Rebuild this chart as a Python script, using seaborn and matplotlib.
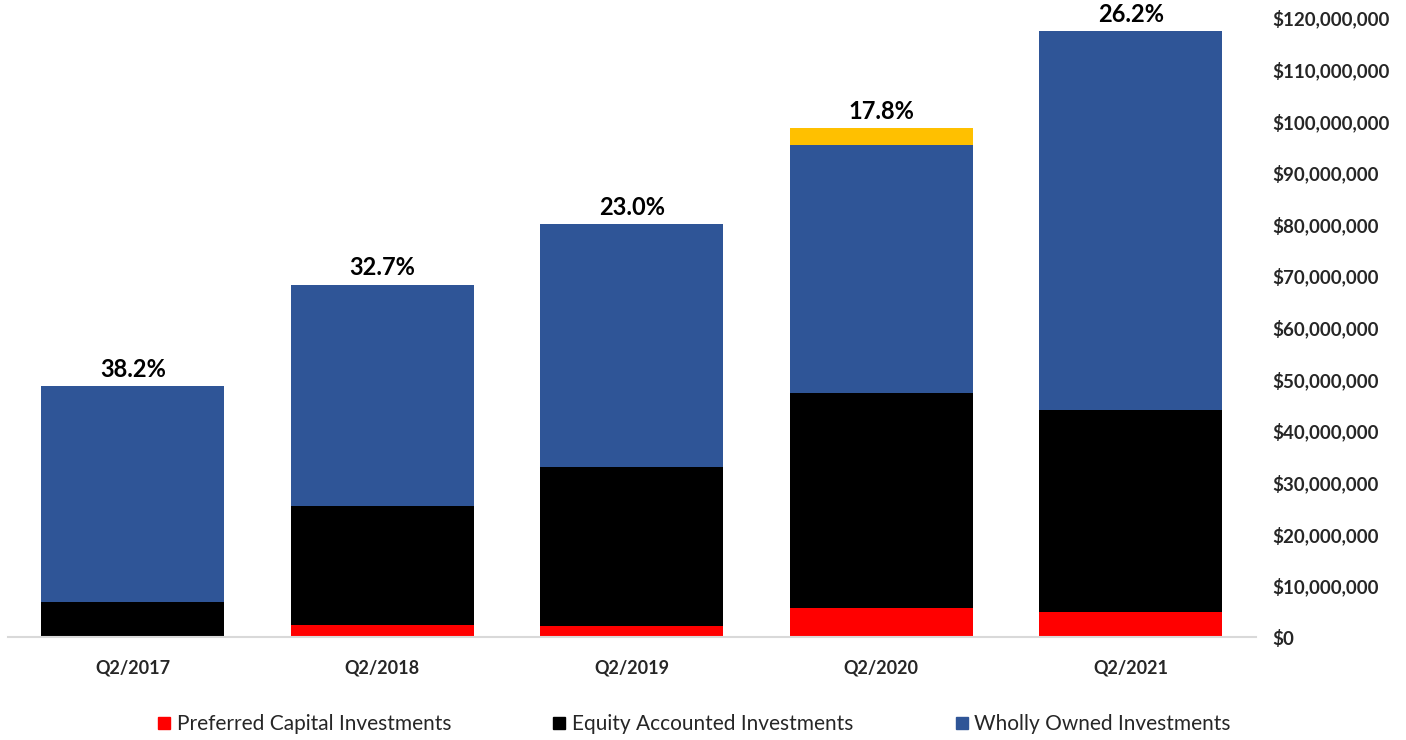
import matplotlib
matplotlib.use("Agg")
import matplotlib.pyplot as plt
import seaborn as sns
import pandas as pd
import numpy as np
from matplotlib.lines import Line2D
from matplotlib.ticker import FuncFormatter

quarters = ["Q2/2017", "Q2/2018", "Q2/2019", "Q2/2020", "Q2/2021"]
preferred = [0.0, 2.3e6, 2.1e6, 5.6e6, 4.8e6]
equity = [6.9e6, 23.2e6, 30.9e6, 41.7e6, 39.2e6]
wholly = [41.7e6, 42.8e6, 47.1e6, 48.1e6, 73.4e6]
other = [0.0, 0.0, 0.0, 3.2e6, 0.0]
pct_labels = ["38.2%", "32.7%", "23.0%", "17.8%", "26.2%"]

sns.set_style("white")
plt.rcParams["font.family"] = ["Lato", "DejaVu Sans"]

df = pd.DataFrame({"quarter": quarters})
df["l1"] = np.array(preferred)
df["l2"] = df["l1"] + np.array(equity)
df["l3"] = df["l2"] + np.array(wholly)
df["l4"] = df["l3"] + np.array(other)

fig = plt.figure(figsize=(14.06, 7.40), dpi=100)
ax = fig.add_axes([0.0057, 0.139, 0.8873, 0.837])

# stacked by overdrawing cumulative totals, top layer first
layers = [("l4", "#FFC000"), ("l3", "#2F5597"), ("l2", "#000000"), ("l1", "#FF0000")]
for col, c in layers:
    sns.barplot(data=df, x="quarter", y=col, color=c, width=0.735,
                saturation=1, ax=ax, linewidth=0)

for i, lab in enumerate(pct_labels):
    ax.text(i, df["l4"][i] + 1.0e6, lab, ha="center", va="bottom",
            fontsize=17, fontweight="bold", color="#000000")

ax.set_ylim(0, 120e6)
ax.set_xlim(-0.5, 4.5)
ax.yaxis.tick_right()
ax.yaxis.set_major_locator(plt.MultipleLocator(10e6))
ax.yaxis.set_major_formatter(FuncFormatter(lambda v, p: "${:,.0f}".format(v)))
ax.tick_params(axis="y", length=0, pad=12, labelsize=13.5)
ax.tick_params(axis="x", length=0, pad=16, labelsize=13)
for t in ax.get_yticklabels() + ax.get_xticklabels():
    t.set_fontweight("bold")
ax.set_xlabel("")
ax.set_ylabel("")
for s in ["top", "left", "right"]:
    ax.spines[s].set_visible(False)
ax.spines["bottom"].set_color("#D9D9D9")
ax.spines["bottom"].set_linewidth(1.5)

handles = [
    Line2D([], [], marker="s", linestyle="", color="#FF0000", markersize=9),
    Line2D([], [], marker="s", linestyle="", color="#000000", markersize=9),
    Line2D([], [], marker="s", linestyle="", color="#2F5597", markersize=9),
]
names = ["Preferred Capital Investments", "Equity Accounted Investments", "Wholly Owned Investments"]
fig.legend(handles, names, loc="center", bbox_to_anchor=(0.493, 0.021), ncol=3,
           frameon=False, fontsize=15, handlelength=0.8, handletextpad=0.2,
           columnspacing=4.8, labelcolor="#262626")

fig.savefig("out.png", dpi=100)
